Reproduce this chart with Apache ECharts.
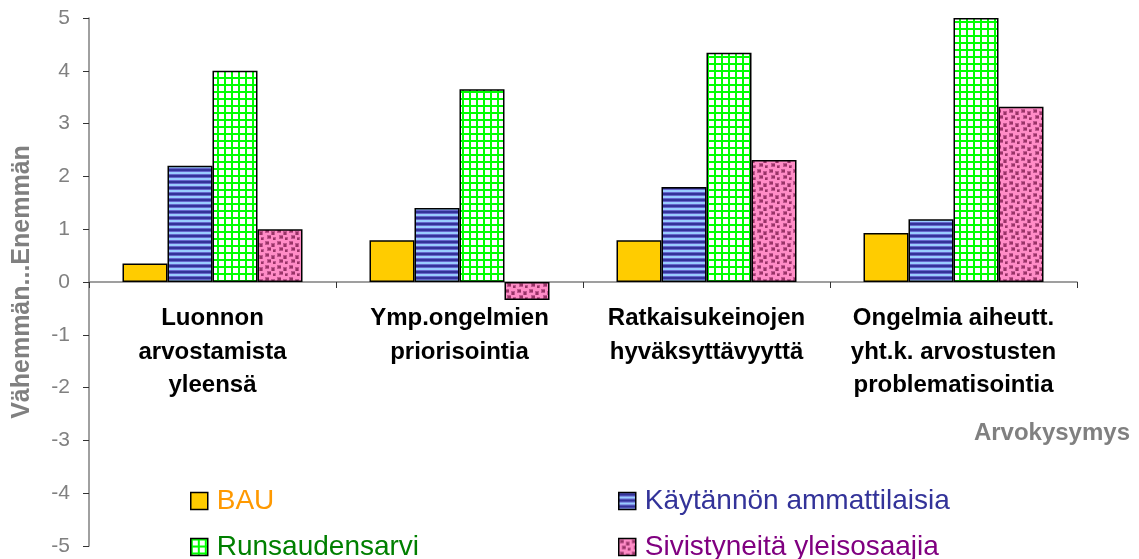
<!DOCTYPE html>
<html>
<head>
<meta charset="utf-8">
<script src="https://cdn.jsdelivr.net/npm/echarts@6/dist/echarts.min.js"></script>
<style>
html,body{margin:0;padding:0;background:#fff;}
#chart{width:1139px;height:559px;}
</style>
</head>
<body>
<div id="chart"></div>
<script>
const categories = [
  'Luonnon\narvostamista\nyleensä',
  'Ymp.ongelmien\npriorisointia',
  'Ratkaisukeinojen\nhyväksyttävyyttä',
  'Ongelmia aiheutt.\nyht.k. arvostusten\nproblematisointia'
];
const seriesNames = ['BAU', 'Käytännön ammattilaisia', 'Runsaudensarvi', 'Sivistyneitä yleisosaajia'];
const bau = [0.35, 0.79, 0.79, 0.93];
const kaytannon = [2.2, 1.4, 1.8, 1.19];
const runsaudensarvi = [4.0, 3.65, 4.34, 5.0];
const sivistyneita = [1.0, -0.34, 2.31, 3.32];
const yTicks = [-5, -4, -3, -2, -1, 0, 1, 2, 3, 4, 5];
const yAxisName = 'Vähemmän...Enemmän';
const xAxisName = 'Arvokysymys';

function tile(w, h, draw) {
  const c = document.createElement('canvas');
  c.width = w; c.height = h;
  draw(c.getContext('2d'));
  return c;
}
const stripeTile = tile(8, 6, ctx => {
  ctx.fillStyle = '#99CCFF'; ctx.fillRect(0, 0, 8, 6);
  ctx.fillStyle = '#6666CC'; ctx.fillRect(0, 0, 8, 1);
  ctx.fillStyle = '#333399'; ctx.fillRect(0, 1, 8, 2);
  ctx.fillStyle = '#6666CC'; ctx.fillRect(0, 3, 8, 1);
});
const gridTile = tile(7, 7, ctx => {
  ctx.fillStyle = '#FFFFFF'; ctx.fillRect(0, 0, 7, 7);
  ctx.fillStyle = '#00FF00'; ctx.fillRect(0, 0, 2, 7); ctx.fillRect(0, 0, 7, 2);
});
const dotTile = tile(12, 12, ctx => {
  ctx.fillStyle = '#FF8CC6'; ctx.fillRect(0, 0, 12, 12);
  ctx.fillStyle = '#C0558F';
  ctx.fillRect(1, 1, 4, 4); ctx.fillRect(7, 3, 4, 4); ctx.fillRect(3, 7, 4, 4); ctx.fillRect(9, 9, 3, 3);
  ctx.fillStyle = '#993366';
  ctx.fillRect(2, 2, 3, 2); ctx.fillRect(8, 4, 2, 3); ctx.fillRect(4, 8, 3, 2); ctx.fillRect(9, 10, 2, 2);
});

const fills = [
  '#FFCC00',
  { image: stripeTile, repeat: 'repeat' },
  { image: gridTile, repeat: 'repeat' },
  { image: dotTile, repeat: 'repeat' }
];
const textColors = ['#FF9900', '#333399', '#008000', '#800080'];
const values = [bau, kaytannon, runsaudensarvi, sivistyneita];

const chart = echarts.init(document.getElementById('chart'), null, { renderer: 'canvas' });
const FONT = '"Liberation Sans", Arial, sans-serif';

const series = seriesNames.map((n, i) => ({
  name: n,
  type: 'bar',
  data: values[i],
  barWidth: 45,
  barGap: '0%',
  itemStyle: { color: fills[i], borderColor: '#000', borderWidth: 1.5 },
  emphasis: { disabled: true }
}));

function legendCfg(idx, left) {
  return {
    orient: 'vertical',
    left: left, top: 484, height: 120,
    padding: 0,
    icon: 'rect',
    itemWidth: 17, itemHeight: 17,
    itemGap: 12,
    selectedMode: false,
    itemStyle: { borderColor: '#000', borderWidth: 1.5 },
    textStyle: { fontFamily: FONT, fontSize: 28, lineHeight: 34, padding: [0, 0, 0, 4] },
    data: idx.map(i => ({ name: seriesNames[i], textStyle: { color: textColors[i] } }))
  };
}

chart.setOption({
  animation: false,
  backgroundColor: '#fff',
  grid: [
    { left: 89, right: 62, top: 18, bottom: 13, containLabel: false, outerBoundsMode: 'none' },
    { left: 89, right: 62, top: 18, bottom: 277, containLabel: false, outerBoundsMode: 'none' }
  ],
  legend: [legendCfg([0, 2], 190), legendCfg([1, 3], 618)],
  xAxis: [{
    type: 'category',
    gridIndex: 0,
    data: categories,
    axisLine: { onZero: true, lineStyle: { color: '#808080', width: 1.5 } },
    axisTick: { show: true, inside: false, length: 6, lineStyle: { color: '#333', width: 1 } },
    axisLabel: { show: false }
  }, {
    type: 'category',
    gridIndex: 1,
    data: categories,
    axisLine: { show: false },
    axisTick: { show: false },
    axisLabel: {
      interval: 0, margin: 20,
      fontFamily: FONT, fontSize: 24, fontWeight: 'bold', color: '#000', lineHeight: 33.5
    }
  }],
  yAxis: [{
    type: 'value',
    gridIndex: 0,
    min: yTicks[0], max: yTicks[yTicks.length - 1], interval: 1,
    name: yAxisName,
    nameLocation: 'middle',
    nameRotate: 90,
    nameGap: 54,
    nameTextStyle: { fontFamily: FONT, fontSize: 25, fontWeight: 'bold', color: '#808080' },
    axisLine: { show: true, lineStyle: { color: '#808080', width: 1.5 } },
    axisTick: { show: true, inside: false, length: 6, lineStyle: { color: '#333', width: 1 } },
    splitLine: { show: false },
    axisLabel: { margin: 19, fontFamily: FONT, fontSize: 21, color: '#808080' }
  }, {
    type: 'value',
    gridIndex: 1,
    min: 0, max: 5,
    show: false
  }],
  graphic: [{
    type: 'text', right: 9, top: 421,
    style: { text: xAxisName, font: 'bold 24px "Liberation Sans", Arial, sans-serif', fill: '#808080' }
  }],
  series: series
});
</script>
</body>
</html>
